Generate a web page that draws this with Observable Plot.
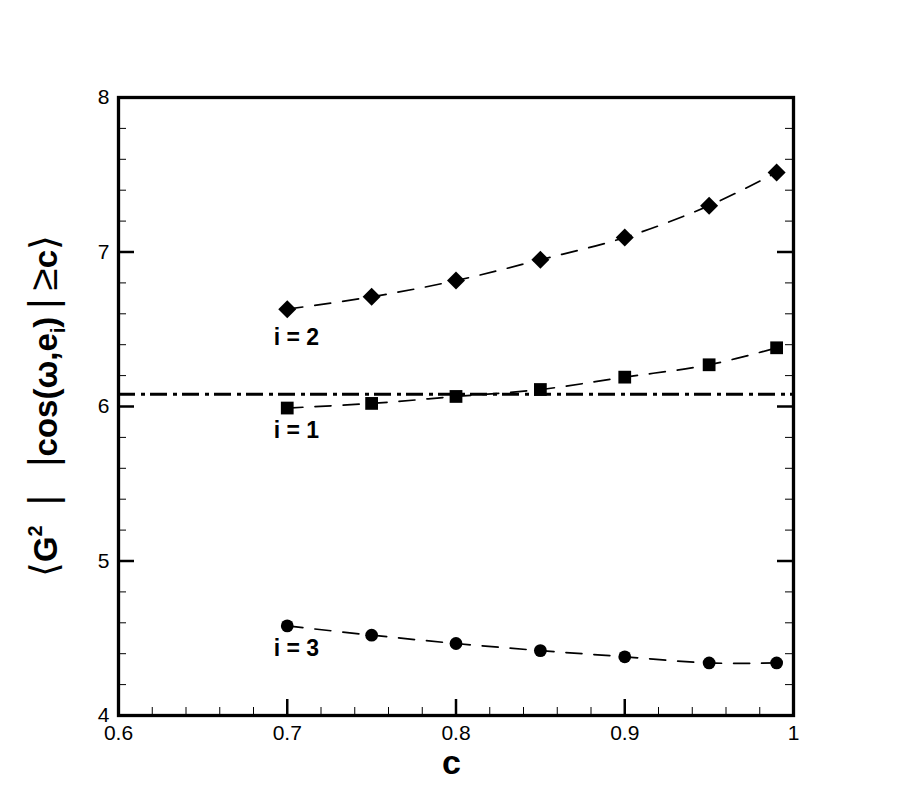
<!DOCTYPE html>
<html><head><meta charset="utf-8">
<script src="https://cdn.jsdelivr.net/npm/d3@7"></script>
<script src="https://cdn.jsdelivr.net/npm/@observablehq/plot@0.6"></script>
<style>
body{margin:0;background:#fff}
</style>
</head><body><div id="chart"></div>
<script>
const cValues = [0.7, 0.75, 0.8, 0.85, 0.9, 0.95, 0.99];
const series1 = [5.99, 6.02, 6.065, 6.11, 6.19, 6.27, 6.38];
const series2 = [6.63, 6.71, 6.815, 6.95, 7.094, 7.30, 7.515];
const series3 = [4.58, 4.52, 4.466, 4.42, 4.38, 4.34, 4.34];
const referenceValue = 6.08;
const seriesNames = ["i = 1", "i = 2", "i = 3"];
const labelC = [0.692, 0.692, 0.692];
const labelValue = [5.845, 6.447, 4.434];
const xTicks = [0.6, 0.7, 0.8, 0.9, 1];
const xTickLabels = ["0.6", "0.7", "0.8", "0.9", "1"];
const yTicks = [4, 5, 6, 7, 8];
const yTickLabels = ["4", "5", "6", "7", "8"];
const xMinor = [0.62, 0.64, 0.66, 0.68, 0.72, 0.74, 0.76, 0.78, 0.82, 0.84, 0.86, 0.88, 0.92, 0.94, 0.96, 0.98];
const yMinor = [4.2, 4.4, 4.6, 4.8, 5.2, 5.4, 5.6, 5.8, 6.2, 6.4, 6.6, 6.8, 7.2, 7.4, 7.6, 7.8];

const W = 903, H = 803;
const mL = 118, mR = 110, mT = 97, mB = 88;
const innerW = W - mL - mR, innerH = H - mT - mB;
const FONT = "'Liberation Sans', Arial, Helvetica, sans-serif";

const tableOf = vals => cValues.map((c, i) => ({c, v: vals[i]}));
const d1 = tableOf(series1), d2 = tableOf(series2), d3s = tableOf(series3);
const labels = seriesNames.map((n, i) => ({n, c: labelC[i], v: labelValue[i]}));

const lineOpts = {x: "c", y: "v", stroke: "black", strokeWidth: 1.7, strokeDasharray: "16,12", curve: "catmull-rom"};

const chart = Plot.plot({
  width: W, height: H,
  marginLeft: mL, marginRight: mR, marginTop: mT, marginBottom: mB,
  style: {fontFamily: FONT, fontSize: "21px", background: "white", color: "black"},
  x: {domain: [0.6, 1]},
  y: {domain: [4, 8]},
  marks: [
    Plot.ruleY([referenceValue], {stroke: "black", strokeWidth: 3, strokeDasharray: "17,6,4,5"}),
    Plot.line(d1, lineOpts),
    Plot.line(d2, lineOpts),
    Plot.line(d3s, lineOpts),
    Plot.dot(d1, {x: "c", y: "v", symbol: "square", r: 7.2, fill: "black", stroke: "none"}),
    Plot.dot(d2, {x: "c", y: "v", symbol: "diamond2", r: 8.1, fill: "black", stroke: "none"}),
    Plot.dot(d3s, {x: "c", y: "v", symbol: "circle", r: 6.4, fill: "black", stroke: "none"}),
    Plot.text(labels, {x: "c", y: "v", text: "n", textAnchor: "start", fontWeight: "bold", fontSize: 23, fill: "black"}),
    // inward ticks
    Plot.tickX(xTicks, {x: d => d, insetTop: innerH - 16, strokeWidth: 2.5, stroke: "black"}),
    Plot.tickX(xMinor, {x: d => d, insetTop: innerH - 8, strokeWidth: 1, stroke: "black"}),
    Plot.tickY(yTicks, {y: d => d, insetRight: innerW - 16, strokeWidth: 2.5, stroke: "black"}),
    Plot.tickY(yMinor, {y: d => d, insetRight: innerW - 8, strokeWidth: 1, stroke: "black"}),
    Plot.tickY(yTicks, {y: d => d, insetLeft: innerW - 16, strokeWidth: 2.5, stroke: "black"}),
    Plot.tickY(yMinor, {y: d => d, insetLeft: innerW - 8, strokeWidth: 1, stroke: "black"}),
    Plot.axisX(xTicks, {tickSize: 0, tickPadding: 10, tickFormat: (d, i) => xTickLabels[i], label: null, fontSize: 21}),
    Plot.axisY(yTicks, {tickSize: 0, tickPadding: 9, tickFormat: (d, i) => yTickLabels[i], label: null, fontSize: 21}),
    Plot.frame({stroke: "black", strokeWidth: 3.3})
  ]
});

const svg = d3.select(chart);

// x label
svg.append("text")
  .attr("x", mL + innerW / 2 - 4).attr("y", 774)
  .attr("text-anchor", "middle")
  .attr("font-family", FONT)
  .attr("font-weight", "bold").attr("font-size", 34)
  .attr("fill", "black")
  .text("c");

// y label with super/subscripts
const yl = svg.append("text")
  .attr("transform", `translate(57,${mT + innerH / 2}) rotate(-90)`)
  .attr("text-anchor", "middle")
  .attr("font-family", FONT)
  .attr("font-size", 33).attr("fill", "black");
yl.append("tspan").attr("font-weight", "normal").attr("font-family", "'DejaVu Sans', sans-serif").attr("font-size", 38).text("\u27E8");
yl.append("tspan").attr("font-weight", "bold").text("G");
yl.append("tspan").attr("font-weight", "bold").attr("font-size", 20).attr("dy", -15).text("2");
yl.append("tspan").attr("font-weight", "normal").attr("dy", 15).attr("font-size", 40).text("\u2002|\u2002\u2009|");
yl.append("tspan").attr("font-weight", "bold").text("cos(\u03C9,e");
yl.append("tspan").attr("font-weight", "bold").attr("font-size", 20).attr("dy", 8).text("i");
yl.append("tspan").attr("font-weight", "bold").attr("dy", -8).text(")");
yl.append("tspan").attr("font-weight", "normal").attr("font-size", 40).text("\u2009|\u2009\u2265");
yl.append("tspan").attr("font-weight", "bold").text("c");
yl.append("tspan").attr("font-weight", "normal").attr("font-family", "'DejaVu Sans', sans-serif").attr("font-size", 38).text("\u27E9");

document.getElementById("chart").appendChild(chart);
</script>
</body></html>
